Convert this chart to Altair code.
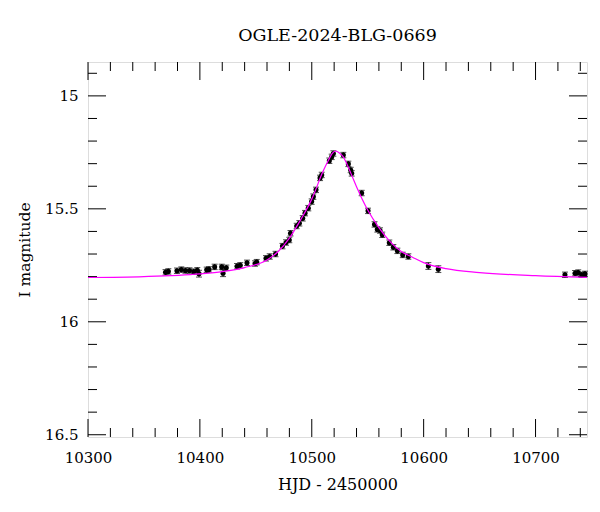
import altair as alt
import pandas as pd

# Photometric data points (HJD - 2450000, I mag, error)
hjd = [10369.3, 10371.8, 10379.5, 10383.4, 10387.1, 10390.7, 10394.5, 10397.7, 10399.2, 10406.1,
       10408.2, 10413.2, 10419.5, 10420.7, 10423.6, 10433.2, 10436.1, 10442.1, 10449.3, 10450.8,
       10459.1, 10462.4, 10467.6, 10473.8, 10477.0, 10479.9, 10481.0, 10486.5, 10488.9, 10491.9,
       10494.0, 10496.9, 10499.9, 10501.4, 10503.8, 10507.4, 10508.9, 10515.7, 10517.8, 10519.3,
       10528.2, 10532.7, 10534.8, 10535.7, 10544.6, 10550.3, 10556.1, 10558.6, 10561.0, 10563.0,
       10569.3, 10572.9, 10576.5, 10581.3, 10586.3, 10604.2, 10613.1, 10726.3, 10735.3, 10738.2,
       10741.3, 10744.2]
mag = [15.781, 15.777, 15.774, 15.769, 15.773, 15.773, 15.778, 15.772, 15.787, 15.770,
       15.768, 15.757, 15.757, 15.785, 15.761, 15.754, 15.750, 15.739, 15.742, 15.736,
       15.719, 15.711, 15.700, 15.665, 15.649, 15.638, 15.608, 15.576, 15.564, 15.542,
       15.519, 15.497, 15.468, 15.446, 15.416, 15.363, 15.350, 15.287, 15.270, 15.255,
       15.262, 15.301, 15.328, 15.343, 15.430, 15.509, 15.569, 15.591, 15.596, 15.615,
       15.650, 15.670, 15.686, 15.704, 15.711, 15.753, 15.767, 15.792, 15.785, 15.782,
       15.792, 15.788]
err = [0.012, 0.012, 0.012, 0.012, 0.012, 0.012, 0.012, 0.012, 0.015, 0.012,
       0.012, 0.012, 0.012, 0.015, 0.012, 0.012, 0.012, 0.012, 0.012, 0.012,
       0.012, 0.012, 0.012, 0.012, 0.012, 0.012, 0.012, 0.012, 0.012, 0.012,
       0.012, 0.012, 0.012, 0.012, 0.012, 0.012, 0.012, 0.012, 0.012, 0.012,
       0.012, 0.012, 0.012, 0.012, 0.012, 0.012, 0.012, 0.012, 0.012, 0.012,
       0.012, 0.012, 0.012, 0.012, 0.012, 0.015, 0.015, 0.012, 0.012, 0.012,
       0.012, 0.012]

# Model light curve
model_hjd = [10300, 10350, 10400, 10420, 10440, 10460, 10470, 10480, 10490, 10500,
             10510, 10515, 10518, 10521, 10525, 10528, 10530, 10535, 10540, 10550,
             10560, 10570, 10580, 10590, 10600, 10620, 10650, 10700, 10746]
model_mag = [15.804, 15.800, 15.788, 15.778, 15.760, 15.726, 15.689, 15.630, 15.549, 15.457,
             15.335, 15.284, 15.257, 15.244, 15.254, 15.269, 15.287, 15.343, 15.402, 15.505,
             15.583, 15.645, 15.689, 15.714, 15.738, 15.765, 15.782, 15.796, 15.803]

# Axis tick values
x_major = [10300, 10400, 10500, 10600, 10700]
x_minor = [10320, 10340, 10360, 10380, 10420, 10440, 10460, 10480, 10520, 10540, 10560, 10580,
           10620, 10640, 10660, 10680, 10720, 10740]
y_major = [15.0, 15.5, 16.0, 16.5]
y_minor = [14.9, 15.1, 15.2, 15.3, 15.4, 15.6, 15.7, 15.8, 15.9, 16.1, 16.2, 16.3, 16.4]

W, H = 499, 375
FONT = "DejaVu Serif"

pts = pd.DataFrame({"hjd": hjd, "mag": mag, "err": err})
pts["lo"] = pts["mag"] - pts["err"]
pts["hi"] = pts["mag"] + pts["err"]
model = pd.DataFrame({"hjd": model_hjd, "mag": model_mag})

xscale = alt.Scale(domain=[10300, 10746], nice=False, zero=False)
yscale = alt.Scale(domain=[14.85, 16.51], reverse=True, nice=False, zero=False)

xaxis = alt.Axis(values=x_major, format="d", ticks=False, domain=False, grid=False,
                 labelFont=FONT, labelFontSize=15, labelColor="black", labelPadding=13,
                 title="HJD - 2450000", titleFont=FONT, titleFontSize=16,
                 titleFontWeight="normal", titleColor="black", titlePadding=11,
                 labelFlush=False, labelOverlap=False)
yaxis = alt.Axis(values=y_major, labelExpr="datum.value", ticks=False, domain=False, grid=False,
                 labelFont=FONT, labelFontSize=15, labelColor="black", labelPadding=10,
                 title="I magnitude", titleFont=FONT, titleFontSize=15.5,
                 titleFontWeight="normal", titleColor="black", titlePadding=12,
                 labelFlush=False, labelOverlap=False)


def X(f):
    return alt.X(f, type="quantitative", scale=xscale, axis=xaxis)


def Y(f):
    return alt.Y(f, type="quantitative", scale=yscale, axis=yaxis)


dxmaj = pd.DataFrame({"v": x_major})
dxmin = pd.DataFrame({"v": x_minor})
dymaj = pd.DataFrame({"v": y_major})
dymin = pd.DataFrame({"v": y_minor})

rule = dict(color="black", strokeWidth=1)

layers = [
    alt.Chart(dxmaj).mark_rule(**rule).encode(x=X("v"), y=alt.value(H), y2=alt.value(H - 18)),
    alt.Chart(dxmaj).mark_rule(**rule).encode(x=X("v"), y=alt.value(0), y2=alt.value(18)),
    alt.Chart(dxmin).mark_rule(**rule).encode(x=X("v"), y=alt.value(H), y2=alt.value(H - 9)),
    alt.Chart(dxmin).mark_rule(**rule).encode(x=X("v"), y=alt.value(0), y2=alt.value(9)),
    alt.Chart(dymaj).mark_rule(**rule).encode(y=Y("v"), x=alt.value(0), x2=alt.value(18)),
    alt.Chart(dymaj).mark_rule(**rule).encode(y=Y("v"), x=alt.value(W), x2=alt.value(W - 18)),
    alt.Chart(dymin).mark_rule(**rule).encode(y=Y("v"), x=alt.value(0), x2=alt.value(9)),
    alt.Chart(dymin).mark_rule(**rule).encode(y=Y("v"), x=alt.value(W), x2=alt.value(W - 9)),
    alt.Chart(pts).mark_rule(color="black", strokeWidth=1).encode(x=X("hjd"), y=Y("lo"), y2="hi"),
    alt.Chart(pts).mark_tick(color="black", orient="horizontal", size=6, thickness=1).encode(x=X("hjd"), y=Y("lo")),
    alt.Chart(pts).mark_tick(color="black", orient="horizontal", size=6, thickness=1).encode(x=X("hjd"), y=Y("hi")),
    alt.Chart(pts).mark_circle(color="black", opacity=1, size=26).encode(x=X("hjd"), y=Y("mag")),
    alt.Chart(model).mark_line(color="#ff00ff", strokeWidth=1.2, interpolate="monotone").encode(x=X("hjd"), y=Y("mag")),
]

chart = alt.layer(*layers).properties(
    width=W, height=H,
    title=alt.TitleParams("OGLE-2024-BLG-0669", font=FONT, fontSize=17.5, fontWeight="normal",
                          color="black", anchor="middle", offset=3, baseline="alphabetic"),
    autosize=alt.AutoSizeParams(type="none"),
    padding={"left": 80, "top": 54, "right": 5, "bottom": 60},
).configure_view(stroke="black", strokeWidth=1).configure(background="white")

chart.save("out.html", embed_options={"renderer": "svg", "actions": False})
